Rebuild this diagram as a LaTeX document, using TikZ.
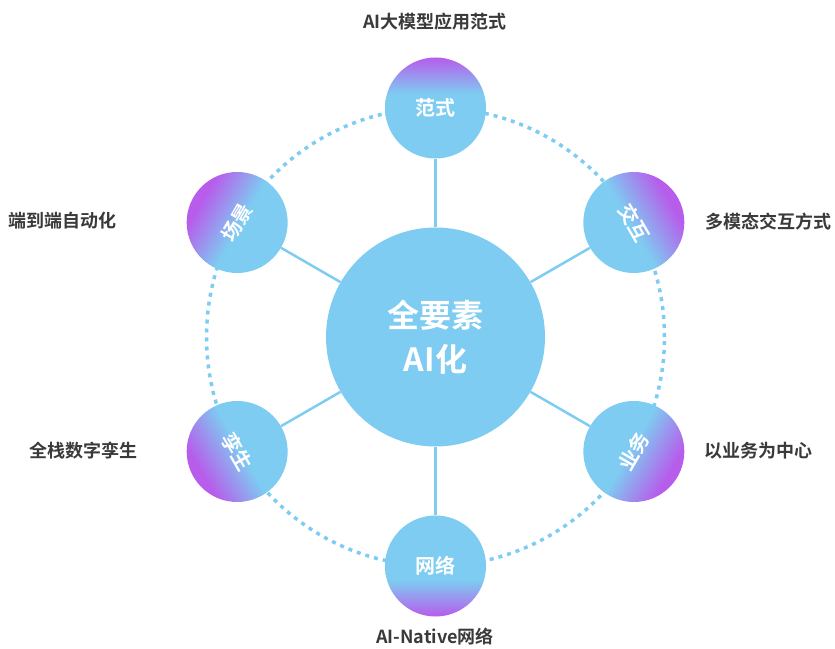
\documentclass[tikz,border=0pt]{standalone}
\usepackage{fontspec}
\usepackage{xcolor}
\newfontfamily\cjk{Noto Sans CJK SC}[BoldFont={Noto Sans CJK SC Bold}]
\definecolor{skyc}{RGB}{126,204,241}
\definecolor{purp}{RGB}{183,92,235}
\definecolor{labelgray}{RGB}{58,58,58}
\pgfdeclareverticalshading{satshade}{100bp}{color(0bp)=(skyc); color(25bp)=(skyc); color(57bp)=(skyc); color(75bp)=(purp); color(100bp)=(purp)}
\pgfdeclareverticalshading{satshadetilt}{100bp}{color(0bp)=(skyc); color(25bp)=(skyc); color(48bp)=(skyc); color(71bp)=(purp); color(100bp)=(purp)}

\begin{document}
\begin{tikzpicture}[x=1pt,y=1pt]
\tikzset{hub/.style={circle,fill=skyc,minimum size=219pt,inner sep=0pt,text=white,align=center,font=\cjk\bfseries\fontsize{32}{44}\selectfont}}
\tikzset{sat/.style={circle,minimum size=101pt,inner sep=0pt,shading=satshade,text=white,font=\cjk\bfseries\fontsize{20}{24}\selectfont}}
\tikzset{sattilt/.style={sat,shading=satshadetilt}}
\tikzset{spoke/.style={draw=skyc,line width=2.5pt}}
\tikzset{ring/.style={draw=skyc,line width=3.5pt,dash pattern=on 4pt off 5pt}}
\tikzset{caption/.style={text=labelgray,font=\cjk\bfseries\fontsize{18}{21}\selectfont}}

\useasboundingbox (0,0) rectangle (835,648);
\coordinate (o) at (435.5,311);
\draw[ring] (o) circle (229);

\node[hub] (hub) at (o) {全要素\\AI化};

\node[sat,shading angle=0] (fanshi) at ([shift={(90:229)}]o) {范式};
\node[sattilt,shading angle=-60] (jiaohu) at ([shift={(30:229)}]o) {\rotatebox{-60}{交互}};
\node[sattilt,shading angle=-120] (yewu) at ([shift={(-30:229)}]o) {\rotatebox{60}{业务}};
\node[sat,shading angle=180] (wangluo) at ([shift={(-90:229)}]o) {网络};
\node[sattilt,shading angle=120] (luansheng) at ([shift={(-150:229)}]o) {\rotatebox{-60}{孪生}};
\node[sattilt,shading angle=60] (changjing) at ([shift={(150:229)}]o) {\rotatebox{60}{场景}};

\foreach \s in {fanshi,jiaohu,yewu,wangluo,luansheng,changjing}
  \draw[spoke] (hub) -- (\s);

\node[caption] (capfanshi) at (435,626) {AI大模型应用范式};
\node[caption] (capjiaohu) at (768,426) {多模态交互方式};
\node[caption] (capyewu) at (758,197) {以业务为中心};
\node[caption] (capwangluo) at (435,11) {AI-Native网络};
\node[caption] (capluansheng) at (83,197) {全栈数字孪生};
\node[caption] (capchangjing) at (63,427) {端到端自动化};

\end{tikzpicture}
\end{document}
